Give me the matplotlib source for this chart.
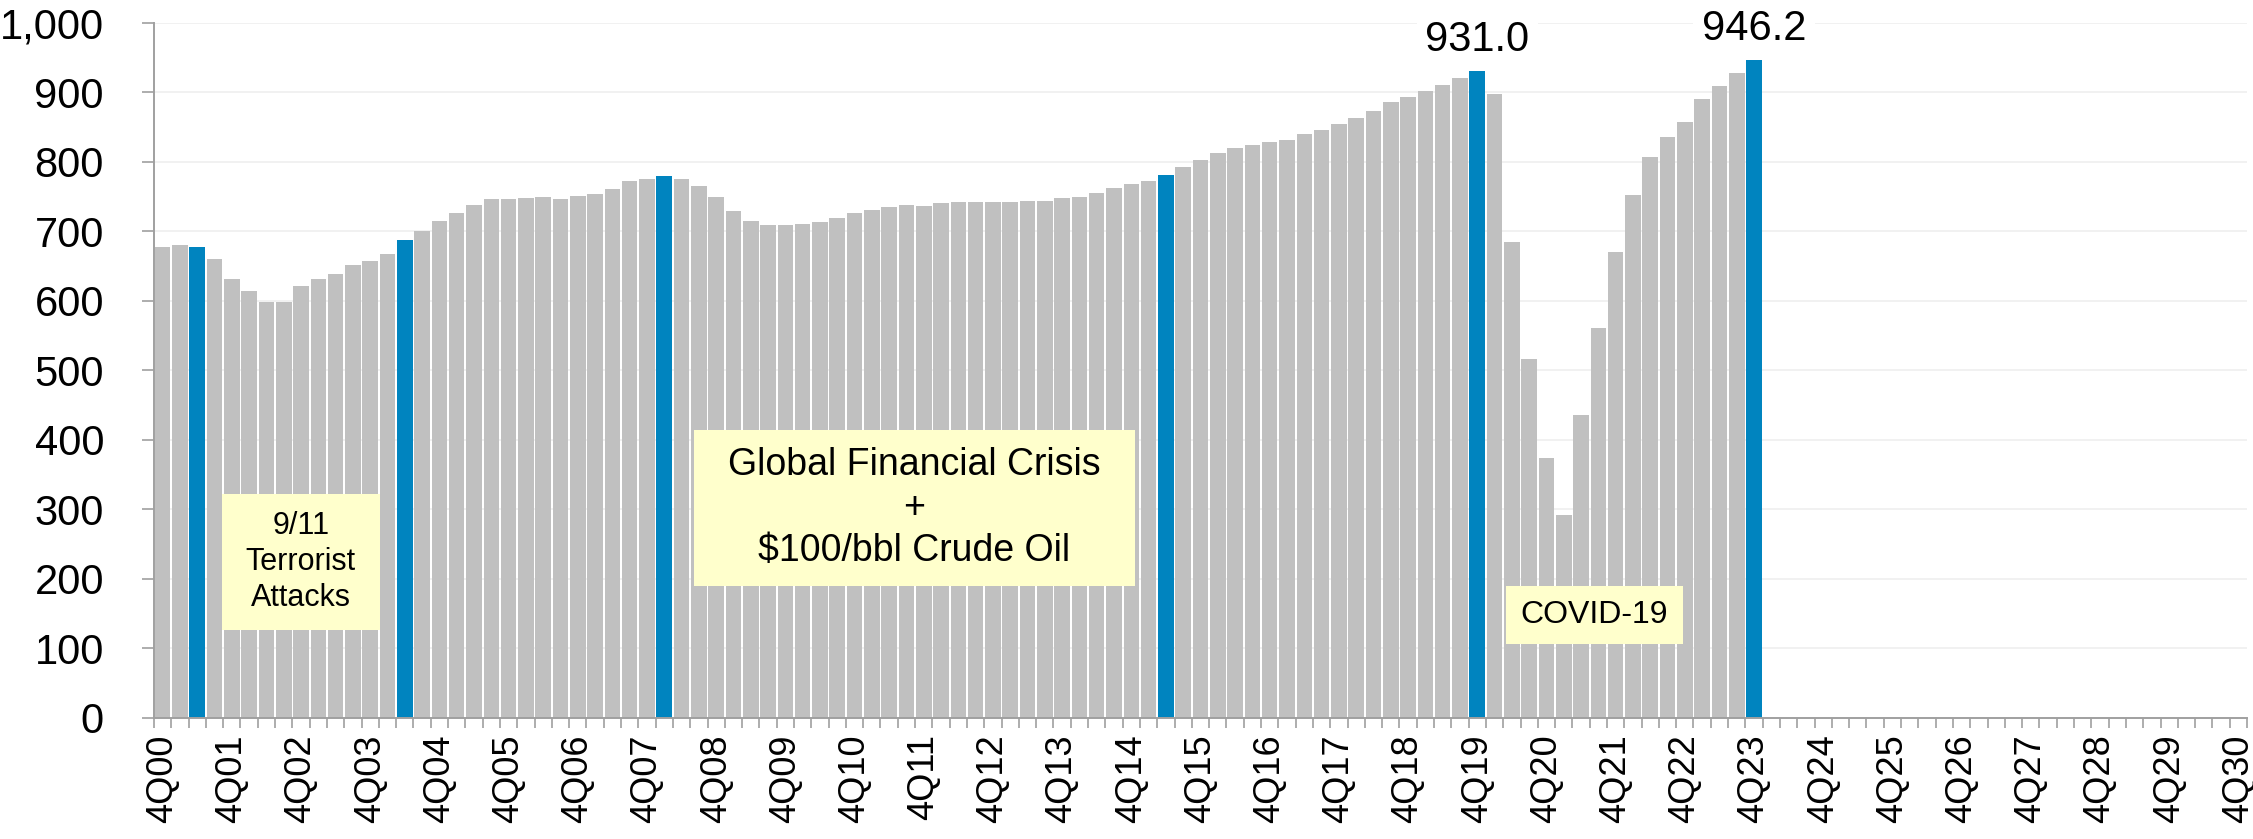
import matplotlib
matplotlib.use("Agg")
import matplotlib.pyplot as plt
from matplotlib.patches import Rectangle
from matplotlib.ticker import FixedLocator, FuncFormatter

plt.rcParams["font.family"] = ["Liberation Sans", "DejaVu Sans"]

# Quarterly axis: 4Q00 through 4Q30
quarters = []
for yr in range(0, 31):
    for q in (1, 2, 3, 4):
        if (yr == 0 and q < 4):
            continue
        quarters.append(f"{q}Q{yr:02d}")
quarters = quarters[:121]

# Observed values, 4Q00 .. 4Q23
values = [
    678,
    680, 677, 661, 631,
    614, 599, 599, 622,
    632, 639, 652, 657,
    668, 687, 700, 715,
    727, 738, 746, 747,
    748, 749, 746, 751,
    754, 761, 772, 776,
    780, 776, 765, 749,
    729, 715, 709, 709,
    710, 714, 719, 726,
    731, 735, 738, 737,
    741, 743, 743, 742,
    743, 744, 744, 748,
    749, 756, 763, 768,
    773, 781, 792, 803,
    813, 820, 825, 829,
    832, 840, 846, 854,
    863, 874, 886, 894,
    902, 911, 921, 931.0,
    898, 685, 517, 374,
    292, 436, 561, 670,
    753, 807, 836, 857,
    891, 909, 928, 946.2,
]

highlight = ["2Q01", "2Q04", "1Q08", "2Q15", "4Q19", "4Q23"]
value_labels = ["4Q19", "4Q23"]

annotations = [
    # (text, x0, x1, y0, y1, fontsize)
    ("9/11\nTerrorist\nAttacks", 3.41, 12.56, 126, 322, 22),
    ("Global Financial Crisis\n+\n$100/bbl Crude Oil", 30.7, 56.2, 190, 414, 27),
    ("COVID-19", 77.66, 87.9, 106, 190, 23),
]

GREY = "#C0C0C0"
BLUE = "#0084BF"
AXIS = "#A0A0A0"

fig = plt.figure(figsize=(22.53, 8.39), dpi=100)
ax = fig.add_axes([154 / 2253, 121.3 / 839, (2247 - 154) / 2253, (717.7 - 23) / 839])

xs = list(range(len(values)))
colors = [BLUE if quarters[i] in highlight else GREY for i in xs]
ax.bar(xs, values, width=0.9, color=colors, zorder=2, linewidth=0)

for lab in value_labels:
    i = quarters.index(lab)
    v = values[i]
    ax.text(i, v + 29, f"{v:.1f}", ha="center", va="baseline", fontsize=30,
            color="black", zorder=5,
            bbox=dict(facecolor="white", edgecolor="none", pad=6))

for text, x0, x1, y0, y1, fs in annotations:
    ax.add_patch(Rectangle((x0, y0), x1 - x0, y1 - y0, facecolor="#FFFFCC",
                           edgecolor="none", zorder=3))
    ax.text((x0 + x1) / 2, (y0 + y1) / 2, text.replace("$", r"\$"),
            ha="center", va="center", fontsize=fs, linespacing=1.25,
            zorder=4, color="black")

ax.set_xlim(-0.5, len(quarters) - 0.5)
ax.set_ylim(0, 1000)

# Tick marks between categories, labels every fourth quarter
ax.xaxis.set_major_locator(FixedLocator([k - 0.5 for k in range(len(quarters) + 1)]))
ax.xaxis.set_major_formatter(FuncFormatter(lambda v, p: ""))
label_pos = [i for i, q in enumerate(quarters) if q.startswith("4Q")]
ax.xaxis.set_minor_locator(FixedLocator(label_pos))
ax.set_xticklabels([quarters[i] for i in label_pos], minor=True, rotation=90,
                   fontsize=26)
ax.tick_params(axis="x", which="major", length=7.5, width=1.2, color=AXIS,
               direction="out")
ax.tick_params(axis="x", which="minor", length=0, pad=12)

ax.set_yticks(range(0, 1001, 100))
ax.yaxis.set_major_formatter(FuncFormatter(lambda v, p: f"{int(v):,}"))
ax.tick_params(axis="y", length=9, width=1.2, color=AXIS, labelsize=30, pad=27)

ax.grid(axis="y", color="#EFEFEF", linewidth=1.2, zorder=0)
ax.set_axisbelow(True)
for s in ("top", "right"):
    ax.spines[s].set_visible(False)
for s in ("left", "bottom"):
    ax.spines[s].set_color(AXIS)
    ax.spines[s].set_linewidth(1.4)
ax.spines["bottom"].set_zorder(6)

fig.savefig("out.png", dpi=100)
